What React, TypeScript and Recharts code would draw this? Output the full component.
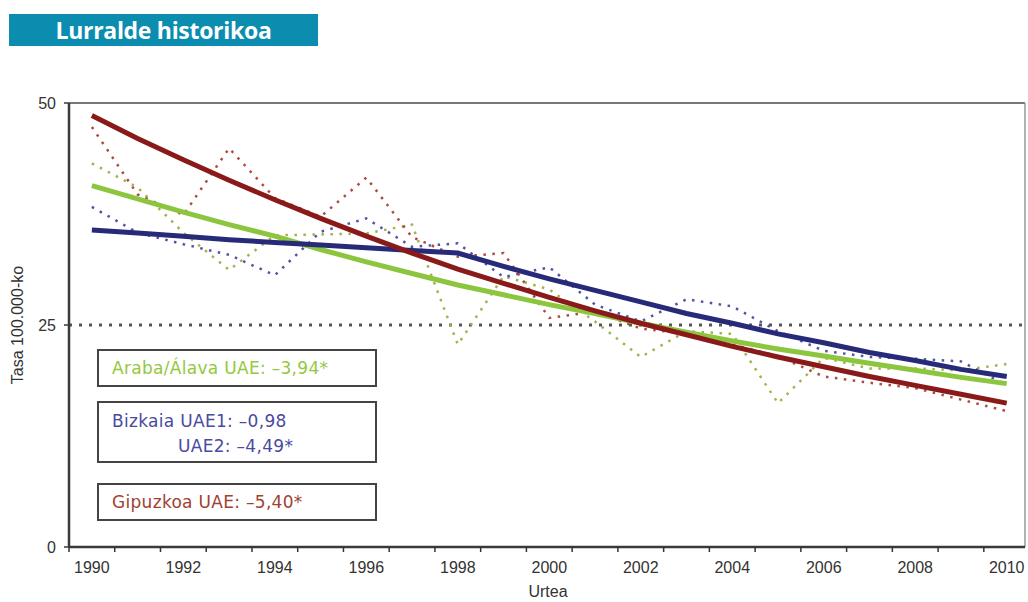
import React from 'react';
import { LineChart, Line, XAxis, YAxis, ReferenceLine } from 'recharts';

const years = [1990, 1991, 1992, 1993, 1994, 1995, 1996, 1997, 1998, 1999, 2000, 2001, 2002, 2003, 2004, 2005, 2006, 2007, 2008, 2009, 2010];

// Observed rates (dotted)
const arabaObs = [43.2, 40.5, 35.4, 31.2, 35.1, 35.2, 35.3, 36.3, 22.8, 30.5, 29.0, 25.4, 21.4, 24.3, 24.0, 16.2, 21.3, 20.1, 20.1, 19.9, 20.6];
const bizkaiaObs = [38.3, 35.4, 34.1, 32.9, 30.6, 35.5, 37.0, 33.8, 34.2, 30.4, 31.5, 27.3, 25.4, 27.9, 27.1, 24.3, 22.1, 21.4, 21.2, 20.9, 18.2];
const gipuzkoaObs = [47.3, 39.7, 37.4, 44.9, 39.3, 37.2, 41.6, 34.9, 32.7, 33.1, 25.8, 26.5, 24.6, 24.0, 22.8, 21.5, 19.2, 18.5, 17.9, 16.6, 15.3];

// Fitted trends (solid)
const arabaTrend = [40.7, 39.2, 37.7, 36.3, 35.0, 33.5, 32.1, 30.8, 29.5, 28.4, 27.3, 26.3, 25.2, 24.2, 23.2, 22.3, 21.5, 20.7, 19.9, 19.1, 18.4];
const bizkaiaTrend = [35.7, 35.35, 35.0, 34.6, 34.3, 34.0, 33.7, 33.4, 33.1, 31.6, 30.2, 28.9, 27.6, 26.3, 25.2, 24.0, 23.0, 21.9, 21.0, 20.0, 19.2];
const gipuzkoaTrend = [48.6, 46.0, 43.6, 41.3, 39.1, 37.0, 35.0, 33.1, 31.3, 29.7, 28.1, 26.6, 25.2, 23.9, 22.6, 21.4, 20.3, 19.2, 18.2, 17.2, 16.2];

const yTicks = [0, 25, 50];
const labelYears = years.filter((y) => y % 2 === 0);
const boundaryTicks = years.map((y) => y - 0.5);
const xTicks = [...boundaryTicks, ...labelYears].sort((a, b) => a - b);

const data = years.map((year, i) => ({
  year,
  arabaObs: arabaObs[i],
  bizkaiaObs: bizkaiaObs[i],
  gipuzkoaObs: gipuzkoaObs[i],
  arabaTrend: arabaTrend[i],
  bizkaiaTrend: bizkaiaTrend[i],
  gipuzkoaTrend: gipuzkoaTrend[i],
}));

const AXIS_FONT = '"Liberation Sans", Arial, sans-serif';
const LEGEND_FONT = '"DejaVu Sans", sans-serif';

const XTick = (props: any) => {
  const { x, y, payload } = props;
  const v = payload.value;
  if (Number.isInteger(v)) {
    return (
      <text x={x} y={y + 26} textAnchor="middle" fontSize={16} fill="#333" fontFamily={AXIS_FONT}>
        {v}
      </text>
    );
  }
  return <line x1={x} x2={x} y1={y} y2={y + 5} stroke="#333" strokeWidth={1.5} />;
};

const YTick = (props: any) => {
  const { x, y, payload } = props;
  return (
    <text x={x} y={y + 6} textAnchor="end" fontSize={16} fill="#333" fontFamily={AXIS_FONT}>
      {payload.value}
    </text>
  );
};

const boxStyle: React.CSSProperties = {
  position: 'absolute',
  left: 97,
  width: 280,
  border: '2px solid #444',
  background: '#fff',
  fontFamily: LEGEND_FONT,
  fontSize: 17,
  letterSpacing: 0.3,
  boxSizing: 'border-box',
  paddingLeft: 13,
};

export default function App() {
  return (
    <div style={{ position: 'absolute', left: 0, top: 0, width: 1028, height: 602, background: '#fff', overflow: 'hidden' }}>
      <div
        style={{
          position: 'absolute',
          left: 9,
          top: 14,
          width: 309,
          height: 32,
          background: '#0b8db0',
          color: '#fff',
          fontFamily: '"Open Sans", sans-serif',
          fontWeight: 700,
          fontSize: 23,
          letterSpacing: -0.3,
          display: 'flex',
          alignItems: 'center',
          justifyContent: 'center',
        }}
      >
        Lurralde historikoa
      </div>
      <div style={{ position: 'absolute', left: 0, top: 0 }}>
        <LineChart width={1028} height={602} data={data} margin={{ top: 103, right: 3, left: 0, bottom: 0 }}>
          <XAxis
            dataKey="year"
            type="number"
            domain={[1989.5, 2010.4]}
            allowDataOverflow
            ticks={xTicks}
            interval={0}
            tickLine={false}
            tickSize={0}
            tickMargin={0}
            tick={<XTick />}
            height={55}
            axisLine={{ stroke: '#3a3a3a', strokeWidth: 2.5 }}
          />
          <YAxis
            type="number"
            domain={[0, 50]}
            ticks={yTicks}
            interval={0}
            width={69}
            tickSize={5}
            tickMargin={8}
            tick={<YTick />}
            tickLine={{ stroke: '#3a3a3a', strokeWidth: 1.5 }}
            axisLine={{ stroke: '#3a3a3a', strokeWidth: 2.5 }}
          />
          <ReferenceLine y={50} stroke="#777" strokeWidth={2} />
          <ReferenceLine x={2010.4} stroke="#999" strokeWidth={1.5} />
          <ReferenceLine y={25} stroke="#555" strokeWidth={3} strokeDasharray="3 7" />
          <Line dataKey="arabaObs" stroke="#a3b34a" strokeWidth={2.5} strokeDasharray="2.5 6.5" dot={false} isAnimationActive={false} />
          <Line dataKey="bizkaiaObs" stroke="#5252a6" strokeWidth={2.5} strokeDasharray="2.5 6.5" dot={false} isAnimationActive={false} />
          <Line dataKey="gipuzkoaObs" stroke="#b04a40" strokeWidth={2.5} strokeDasharray="2.5 6.5" dot={false} isAnimationActive={false} />
          <Line dataKey="arabaTrend" stroke="#8cc63f" strokeWidth={5} dot={false} isAnimationActive={false} />
          <Line dataKey="bizkaiaTrend" stroke="#262a78" strokeWidth={5} dot={false} isAnimationActive={false} />
          <Line dataKey="gipuzkoaTrend" stroke="#8a1a1a" strokeWidth={5} dot={false} isAnimationActive={false} />
        </LineChart>
      </div>
      <div
        style={{
          position: 'absolute',
          left: 18,
          top: 325,
          transform: 'translate(-50%, -50%) rotate(-90deg)',
          fontFamily: AXIS_FONT,
          fontSize: 16,
          color: '#333',
          whiteSpace: 'nowrap',
        }}
      >
        Tasa 100.000-ko
      </div>
      <div
        style={{
          position: 'absolute',
          left: 548,
          top: 592,
          transform: 'translate(-50%, -50%)',
          fontFamily: AXIS_FONT,
          fontSize: 16,
          color: '#333',
        }}
      >
        Urtea
      </div>
      <div style={{ ...boxStyle, top: 349, height: 38, lineHeight: '34px', color: '#94c83e' }}>
        Araba/Álava UAE: –3,94*
      </div>
      <div style={{ ...boxStyle, top: 401, height: 62, lineHeight: '25px', paddingTop: 6, color: '#4a4aa0' }}>
        <div>Bizkaia UAE1: –0,98</div>
        <div style={{ paddingLeft: 66 }}>UAE2: –4,49*</div>
      </div>
      <div style={{ ...boxStyle, top: 483, height: 38, lineHeight: '34px', color: '#a04232' }}>
        Gipuzkoa UAE: –5,40*
      </div>
    </div>
  );
}
